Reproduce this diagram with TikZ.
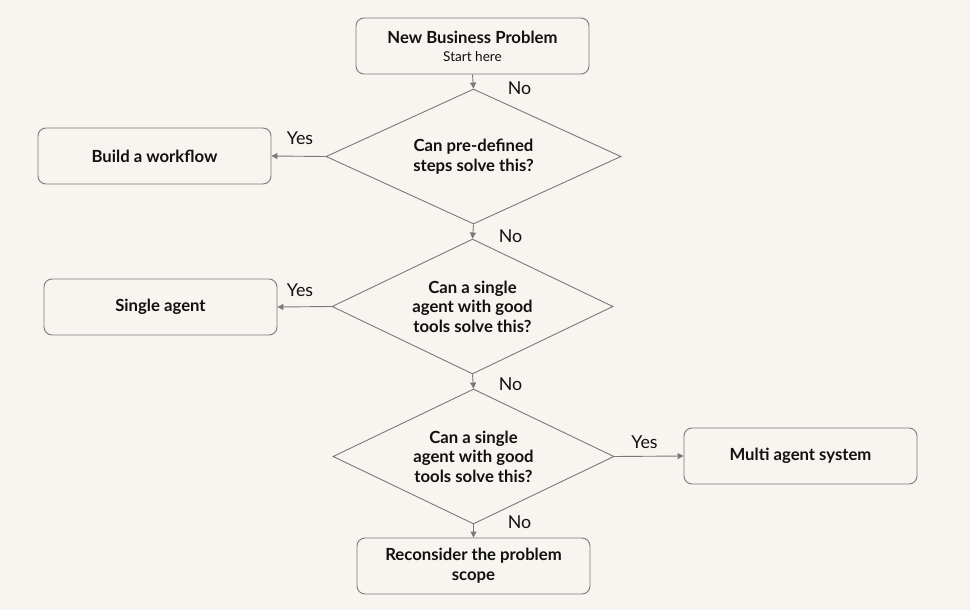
\documentclass[tikz,border=0pt]{standalone}
\usepackage{fontspec}
\setmainfont{Lato}
\usetikzlibrary{shapes.geometric,arrows.meta}
\definecolor{bg}{HTML}{F8F4EF}
\definecolor{ln}{HTML}{7A7A7A}
\definecolor{tx}{HTML}{111111}
\tikzset{
  box/.style={draw=ln, line width=0.9pt, rounded corners=8pt, minimum width=233pt, minimum height=56pt, align=center, text=tx, font=\fontsize{16.7}{20}\selectfont\bfseries, inner sep=2pt},
  dec/.style={draw=ln, line width=0.9pt, diamond, minimum width=#1, minimum height=135pt, inner sep=0pt},
  dtext/.style={align=center, text=tx, inner sep=0pt, font=\fontsize{16.7}{19.5}\selectfont\bfseries},
  arr/.style={draw=ln, line width=0.9pt, -{Triangle[length=6pt,width=6pt]}},
  lbl/.style={text=tx, font=\fontsize{17.8}{20}\selectfont, inner sep=0pt}
}
\begin{document}
\begin{tikzpicture}[x=1pt,y=-1pt]
\fill[bg] (0,0) rectangle (970,610);
\useasboundingbox (0,0) rectangle (970,610);
\node[box] (start) at (472.5,46) {New Business Problem\\[-2pt]{\fontsize{13.6}{15}\selectfont\mdseries Start here}};
\node[dec=295pt] (d1) at (473.5,156.5) {};
\node[dtext] (t1) at (d1.center) {Can pre-defined\\steps solve this?};
\node[box] (wf) at (154.5,156) {Build a workflow};
\node[dec=281pt] (d2) at (472.5,306.5) {};
\node[dtext] (t2) at (d2.center) {Can a single\\agent with good\\tools solve this?};
\node[box] (sa) at (160.5,307) {Single agent};
\node[dec=281pt] (d3) at (473.5,456.5) {};
\node[dtext] (t3) at (d3.center) {Can a single\\agent with good\\tools solve this?};
\node[box] (ma) at (800.5,456) {Multi agent system};
\node[box] (rc) at (473.5,566) {Reconsider the problem\\scope};
\draw[arr] (start.south) -- (d1.north);
\draw[arr] (d1.west) -- (wf.east);
\draw[arr] (d1.south) -- (d2.north);
\draw[arr] (d2.west) -- (sa.east);
\draw[arr] (d2.south) -- (d3.north);
\draw[arr] (d3.east) -- (ma.west);
\draw[arr] (d3.south) -- (rc.north);
\node[lbl] (l1) at (519.5,88) {No};
\node[lbl] (l2) at (300,138) {Yes};
\node[lbl] (l3) at (510.5,236.5) {No};
\node[lbl] (l4) at (300,290) {Yes};
\node[lbl] (l5) at (510.5,384.5) {No};
\node[lbl] (l6) at (644.5,442) {Yes};
\node[lbl] (l7) at (519.5,522.5) {No};
\end{tikzpicture}
\end{document}
